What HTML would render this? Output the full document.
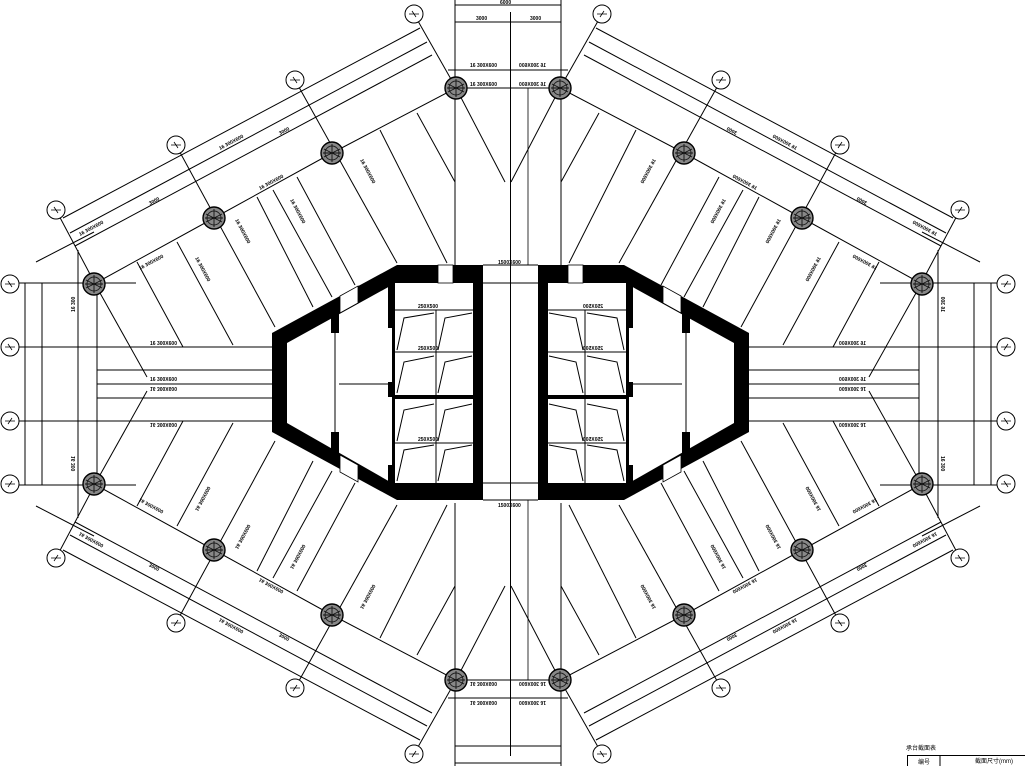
<!DOCTYPE html>
<html><head><meta charset="utf-8"><style>
html,body{margin:0;padding:0;background:#fff;}
svg{display:block;}
text{font-family:"Liberation Sans","Noto Sans CJK SC",sans-serif;}
</style></head><body>
<svg width="1025" height="766" viewBox="0 0 1025 766" xmlns="http://www.w3.org/2000/svg">
<defs>
<g id="col">
  <circle r="11" fill="#888" stroke="#000" stroke-width="1.4"/>
  <circle r="7" fill="none" stroke="#222" stroke-width="1"/>
  <path d="M-8,-4 L8,4 M-8,4 L8,-4 M0,-9 V9 M-9,0 H9" stroke="#111" stroke-width="0.9"/>
</g>
<g id="bub"><circle r="9" fill="#fff" stroke="#000" stroke-width="1"/><path d="M-5,0 H5 M-2,-3 L2,3" stroke="#000" stroke-width="0.8"/></g>
<g id="quad" stroke="#000" stroke-width="1" fill="none">
  <line x1="63" y1="218" x2="420" y2="28"/>
  <line x1="70" y1="233" x2="427" y2="42"/>
  <line x1="75" y1="246" x2="432" y2="55"/>
  <line x1="36" y1="262" x2="94" y2="232"/>
  <polyline points="94,284 214,218 332,153 456,88 510,88"/>
  <line x1="56" y1="210" x2="100" y2="293"/>
  <line x1="100" y1="293" x2="147" y2="377"/>
  <line x1="176" y1="145" x2="275" y2="327"/>
  <line x1="295" y1="80" x2="397" y2="263"/>
  <line x1="414" y1="14" x2="456" y2="88"/>
  <line x1="456" y1="88" x2="505" y2="182"/>
  <line x1="137" y1="262" x2="183" y2="347"/>
  <line x1="177" y1="242" x2="233" y2="345"/>
  <line x1="257" y1="197" x2="313" y2="307"/>
  <line x1="273" y1="190" x2="332" y2="297"/>
  <line x1="297" y1="177" x2="355" y2="285"/>
  <line x1="380" y1="130" x2="447" y2="263"/>
  <line x1="417" y1="113" x2="455" y2="182"/>
  <line x1="455" y1="0" x2="455" y2="265"/>
  <line x1="455" y1="5" x2="510" y2="5"/>
  <line x1="455" y1="22" x2="510" y2="22"/>
  <line x1="448" y1="70" x2="510" y2="70"/>
  <line x1="17" y1="283" x2="136" y2="283"/>
  <line x1="17" y1="347" x2="272" y2="347"/>
  <line x1="97" y1="370" x2="272" y2="370"/>
  <line x1="97" y1="384" x2="272" y2="384"/>
  <line x1="25" y1="283" x2="25" y2="384"/>
  <line x1="42" y1="283" x2="42" y2="384"/>
  <line x1="78" y1="250" x2="78" y2="384"/>
  <line x1="97" y1="290" x2="97" y2="384"/>
  <use href="#col" x="94" y="284"/>
  <use href="#col" x="214" y="218"/>
  <use href="#col" x="332" y="153"/>
  <use href="#col" x="456" y="88"/>
  <use href="#bub" x="56" y="210"/>
  <use href="#bub" x="176" y="145"/>
  <use href="#bub" x="295" y="80"/>
  <use href="#bub" x="414" y="14"/>
  <use href="#bub" x="10" y="284"/>
  <use href="#bub" x="10" y="347"/>
  <g fill="#000" stroke="none" font-size="5" font-weight="bold">
    <text x="470" y="67">16 300X600</text>
    <text x="470" y="86">16 300X600</text>
    <text x="150" y="345">16 300X600</text>
    <text x="150" y="381">16 300X600</text>
    <text transform="translate(80,236) rotate(-28)">16 300X600</text>
    <text transform="translate(220,150) rotate(-28)">16 300X600</text>
    <text transform="translate(140,270) rotate(-28)">16 300X600</text>
    <text transform="translate(260,190) rotate(-28)">16 300X600</text>
    <text transform="translate(150,205) rotate(-28)">3000</text>
    <text transform="translate(280,135) rotate(-28)">3000</text>
    <text transform="translate(195,258) rotate(62)">16 300X600</text>
    <text transform="translate(290,200) rotate(62)">16 300X600</text>
    <text transform="translate(235,220) rotate(62)">16 300X600</text>
    <text transform="translate(360,160) rotate(62)">16 300X600</text>
    <text transform="translate(75,312) rotate(-90)">16 300</text>
  </g>
</g>
<g id="corehalf">
  <polygon points="272,333 397,265 483,265 483,500 397,500 272,432" fill="#000"/>
  <polygon points="287,343 392,285 392,483 287,423" fill="#fff"/>
  <rect x="388" y="283" width="7" height="45" fill="#000"/>
  <rect x="388" y="382" width="7" height="15" fill="#000"/>
  <rect x="388" y="465" width="7" height="18" fill="#000"/>
  <rect x="331" y="313" width="8" height="20" fill="#000"/>
  <rect x="331" y="432" width="8" height="21" fill="#000"/>
  <line x1="335" y1="333" x2="335" y2="432" stroke="#000" stroke-width="1"/>
  <polygon points="340,296 358,286 358,303 340,313" fill="#fff" stroke="#000" stroke-width="0.8"/>
  <polygon points="340,472 358,482 358,465 340,455" fill="#fff" stroke="#000" stroke-width="0.8"/>
  <rect x="395" y="283" width="78" height="200" fill="#fff"/>
  <rect x="438" y="265" width="15" height="18" fill="#fff" stroke="#000" stroke-width="0.8"/>
  <g stroke="#000" stroke-width="1" fill="none">
    <line x1="395" y1="310" x2="473" y2="310"/>
    <line x1="395" y1="352" x2="473" y2="352"/>
    <line x1="395" y1="443" x2="473" y2="443"/>
    <line x1="436" y1="310" x2="436" y2="483"/>
    <polyline points="397,350 404,318 434,313"/>
    <polyline points="438,350 445,318 472,313"/>
    <polyline points="397,393 404,362 434,356"/>
    <polyline points="438,393 445,362 472,356"/>
    <polyline points="397,441 404,410 434,404"/>
    <polyline points="438,441 445,410 472,404"/>
    <polyline points="397,481 404,450 434,445"/>
    <polyline points="438,481 445,450 472,445"/>
    <line x1="483" y1="265" x2="511" y2="265"/>
    <line x1="483" y1="283" x2="511" y2="283"/>
    <line x1="483" y1="483" x2="511" y2="483"/>
    <line x1="483" y1="500" x2="511" y2="500"/>
    <line x1="339" y1="384" x2="388" y2="384"/>
  </g>
  <rect x="395" y="395" width="78" height="4" fill="#000"/>
  <g font-size="5" fill="#000" font-weight="bold"><text x="418" y="308">250X500</text><text x="418" y="350">250X500</text><text x="418" y="441">250X500</text></g>
</g>
</defs>

<use href="#quad"/>
<use href="#quad" transform="translate(0,768) scale(1,-1)"/>
<use href="#quad" transform="translate(1016,0) scale(-1,1)"/>
<use href="#quad" transform="translate(1016,768) scale(-1,-1)"/>

<use href="#corehalf"/>
<use href="#corehalf" transform="translate(1021,0) scale(-1,1)"/>

<line x1="510.5" y1="12" x2="510.5" y2="756" stroke="#000" stroke-width="1"/>
<line x1="528" y1="88" x2="528" y2="265" stroke="#000" stroke-width="0.8"/>
<line x1="528" y1="500" x2="528" y2="680" stroke="#000" stroke-width="0.8"/>
<g font-size="5" fill="#000" font-weight="bold">
  <text x="498" y="264">1500X600</text>
  <text x="498" y="507">1500X600</text>
  <text x="476" y="20">3000</text>
  <text x="530" y="20">3000</text>
  <text x="500" y="4">6000</text>
</g>

<text x="906" y="750" font-size="6" fill="#000">承台截面表</text>
<rect x="907.5" y="755.5" width="118" height="12" fill="none" stroke="#000" stroke-width="1"/>
<line x1="940" y1="755" x2="940" y2="766" stroke="#000"/>
<text x="975" y="763" font-size="6" fill="#000">截面尺寸(mm)</text>
<text x="918" y="764" font-size="6" fill="#000">编号</text>
</svg>
</body></html>
